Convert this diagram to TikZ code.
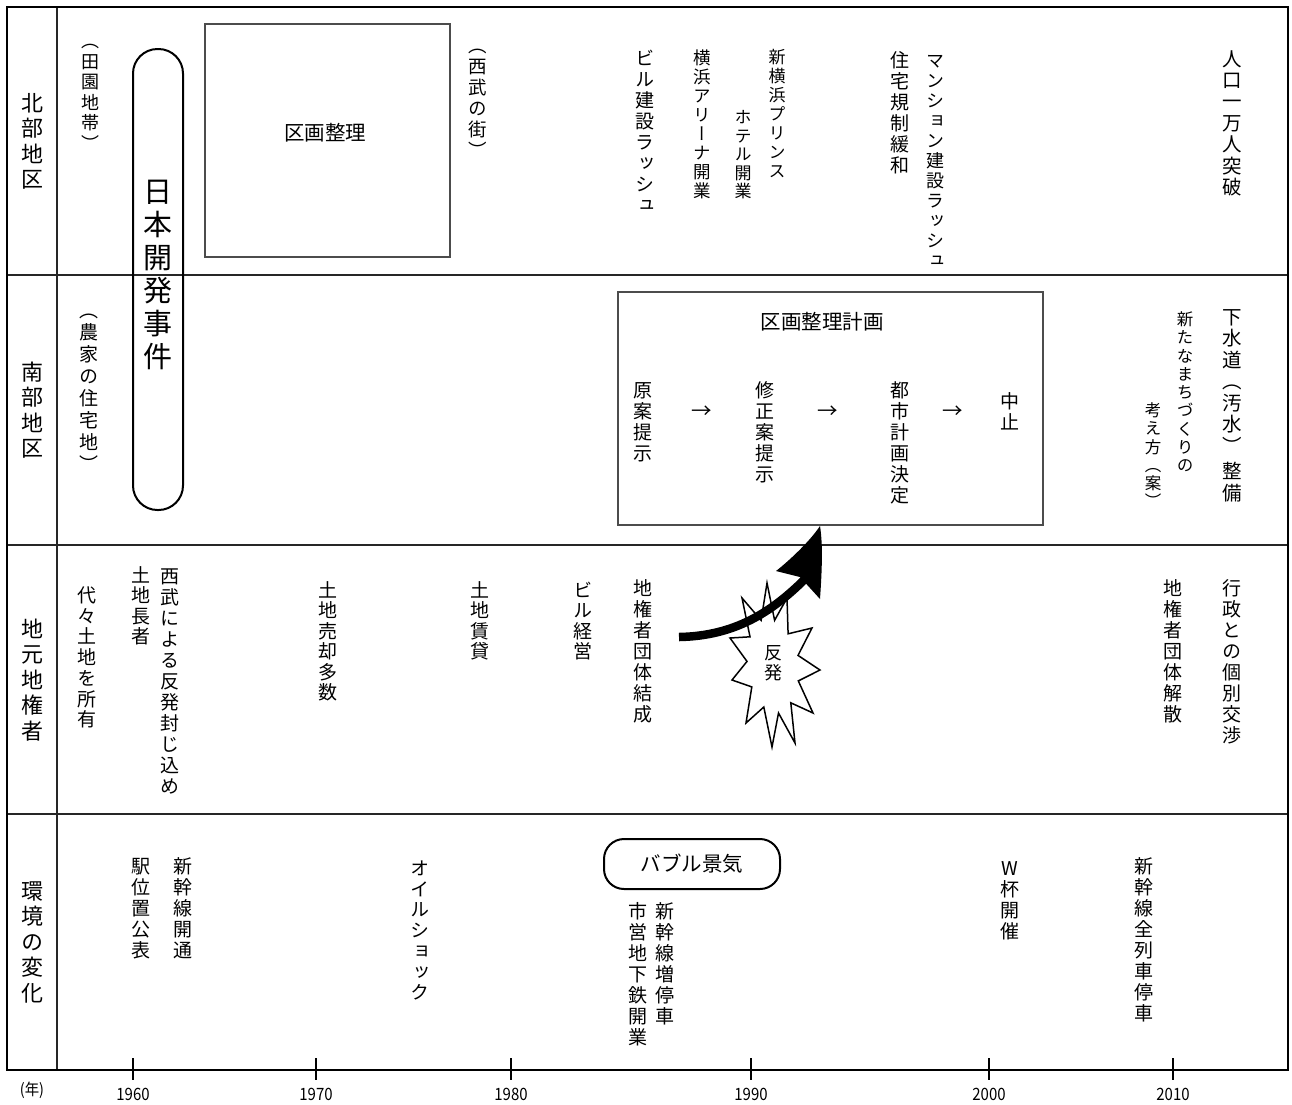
\documentclass[tikz,border=0pt]{standalone}
\usepackage{graphicx}
\usepackage{fontspec}
\newfontfamily\jp{Noto Sans CJK JP}
\newfontfamily\jpv[RawFeature=+vert]{Noto Sans CJK JP}
\newdimen\vtp
\def\vtend{\vtendmarker}
\newcommand\vtext[3]{\vbox{\offinterlineskip\jpv\fontsize{#1pt}{#1pt}\selectfont\vtp=#2pt\relax\vtloop#3\vtend}}
\def\vtloop#1{\ifx#1\vtend\else\vtcell{#1}\expandafter\vtloop\fi}
\def\vtbox#1{\hbox to 1.25em{\hss\vrule height\dimexpr .38em+.5\vtp\relax depth\dimexpr .5\vtp-.38em\relax width 0pt\relax #1\hss}}
\def\vtcell#1{%
  \ifx#1<\vskip-.5\vtp\relax\vtbox{（}%
  \else\ifx#1>\vtbox{）}\vskip-.5\vtp\relax
  \else\ifx#1!\vskip.2\vtp\relax
  \else\vtbox{#1}\fi\fi\fi}
\begin{document}
\begin{tikzpicture}[x=1pt,y=-1pt,
  vt/.style={anchor=north,inner sep=0pt,outer sep=0pt},
  lbl/.style={anchor=center,inner sep=0pt,outer sep=0pt},
  htext/.style={inner sep=0pt,font=\jp\fontsize{20.5pt}{20.5pt}\selectfont},
  yearlbl/.style={inner sep=0pt,font=\jp\fontsize{17pt}{17pt}\selectfont},
  frame/.style={line width=2.6pt},
  divider/.style={line width=2pt,draw=black!85},
  thinbox/.style={draw=black!70,line width=1.4pt,inner sep=0pt},
  tickmark/.style={line width=1.8pt},
  roundbox/.style={draw,line width=2pt,inner sep=0pt}
]
\useasboundingbox (0,0) rectangle (1292,1104);
\fill[white] (0,0) rectangle (1292,1104);

% grid
\draw[divider] (57,7) -- (57,1070);
\draw[divider] (7,275) -- (1288,275);
\draw[divider] (7,545) -- (1288,545);
\draw[divider] (7,814) -- (1288,814);
\draw[frame] (7,7) rectangle (1288,1070);

% years
\foreach \x/\y in {133/1960,316/1970,511/1980,751/1990,989/2000,1173/2010}{
  \draw[tickmark] (\x,1058) -- (\x,1080);
  \node[yearlbl] (y\y) at (\x,1094) {\scalebox{0.88}[1]{\y}};
}
\node[inner sep=0pt,font=\jp\fontsize{16pt}{16pt}\selectfont] (nen) at (32,1090) {\scalebox{0.9}[1]{(年)}};

% row labels
\node[lbl] (hokubu) at (32,141) {\vtext{22}{25.5}{北部地区}};
\node[lbl] (nanbu) at (32,410) {\vtext{22}{25.5}{南部地区}};
\node[lbl] (jimoto) at (32,680) {\vtext{22}{25.5}{地元地権者}};
\node[lbl] (kankyo) at (32,942) {\vtext{22}{25.5}{環境の変化}};

% boxes
\node[thinbox,minimum width=245pt,minimum height=233pt] (kukaku) at (327.5,140.5) {};
\node[htext] (kukakuT) at (325,133) {区画整理};
\node[roundbox,rounded corners=24.5pt,minimum width=50pt,minimum height=461pt] (jiken) at (158,279.5) {};
\node[lbl] (jikenT) at (158,274) {\vtext{29}{33}{日本開発事件}};
\node[thinbox,minimum width=425pt,minimum height=233pt] (plan) at (830.5,408.5) {};
\node[htext] (planT) at (822,322) {区画整理計画};
\node[roundbox,rounded corners=20pt,minimum width=176pt,minimum height=50pt,font=\jp\fontsize{20.5pt}{20.5pt}\selectfont] (bubble) at (692,864) {バブル景気};

% top row
\node[vt] (denen) at (90,41) {\vtext{18}{20.5}{<田園地帯>}};
\node[vt] (seibu) at (478,45) {\vtext{18.5}{21}{<西武の街>}};
\node[vt] (biru) at (645,48) {\vtext{19}{21}{ビル建設ラッシュ}};
\node[vt] (arena) at (702,48) {\vtext{17.5}{19}{横浜アリーナ開業}};
\node[vt] (hotel) at (743,108) {\vtext{17}{18.5}{ホテル開業}};
\node[vt] (prince) at (777,48) {\vtext{17}{19}{新横浜プリンス}};
\node[vt] (kisei) at (900,50) {\vtext{19}{21}{住宅規制緩和}};
\node[vt] (mansion) at (935,51) {\vtext{18}{20}{マンション建設ラッシュ}};
\node[vt] (jinko) at (1232,48) {\vtext{19.5}{21.4}{人口一万人突破}};

% middle row
\node[vt] (nouka) at (89,310) {\vtext{19}{22}{<農家の住宅地>}};
\node[vt] (gen) at (643,380) {\vtext{19}{21}{原案提示}};
\node[htext] (ar1) at (702,412) {→};
\node[vt] (shusei) at (765,380) {\vtext{19}{21}{修正案提示}};
\node[htext] (ar2) at (828,412) {→};
\node[vt] (toshi) at (900,380) {\vtext{19}{21}{都市計画決定}};
\node[htext] (ar3) at (953,412) {→};
\node[vt] (chushi) at (1010,391) {\vtext{19}{21}{中止}};
\node[vt] (atarashi) at (1185,310) {\vtext{16.5}{18.3}{新たなまちづくりの}};
\node[vt] (kangae) at (1153,401) {\vtext{16.5}{18.3}{考え方（案>}};
\node[vt] (gesui) at (1232,306) {\vtext{19.5}{21.5}{下水道（汚水）!整備}};

% third row
\node[vt] (daidai) at (87,585) {\vtext{19}{20.7}{代々土地を所有}};
\node[vt] (choja) at (141,565) {\vtext{19}{20.5}{土地長者}};
\node[vt] (seibu2) at (170,566) {\vtext{19}{21}{西武による反発封じ込め}};
\node[vt] (baikyaku) at (328,580) {\vtext{19}{20.5}{土地売却多数}};
\node[vt] (chintai) at (480,580) {\vtext{19}{20.5}{土地賃貸}};
\node[vt] (keiei) at (583,580) {\vtext{19}{20.5}{ビル経営}};
\node[vt] (kessei) at (643,578) {\vtext{19}{21}{地権者団体結成}};
\node[vt] (kaisan) at (1173,578) {\vtext{19}{21}{地権者団体解散}};
\node[vt] (gyosei) at (1232,578) {\vtext{19}{21}{行政との個別交渉}};

% starburst + arrow
\filldraw[fill=white,draw=black,line width=1.5pt,shift={(771,665)}]
 (-4,-82) -- (3.6,-44.7) -- (16,-67) -- (17.1,-31.2) -- (41,-37) -- (27,-9.6)
 -- (49,5) -- (27.3,15.9) -- (42,48) -- (19.8,37.8) -- (24,78) -- (7.5,48)
 -- (1,82) -- (-7.2,42) -- (-25,58) -- (-19.2,21.9) -- (-39,15) -- (-24,-3.6)
 -- (-41,-27) -- (-21,-28.2) -- (-29,-67) -- (-9.9,-44.7) -- cycle;
\coordinate (aS) at (679,637);
\coordinate (aT) at (820,526);
\draw[line width=8.5pt] (aS) .. controls (735,636) and (772,612) .. (806,578);
\fill (aT) .. controls (810,541) and (790,560) .. (776,571) -- (800,577) -- (820,599) .. controls (822,570) and (823,545) .. (aT);
\node[lbl] (hanpatsu) at (773,663) {\vtext{18}{20}{反発}};

% bottom row
\node[vt] (eki) at (141,856) {\vtext{19}{21}{駅位置公表}};
\node[vt] (kaitsu) at (183,856) {\vtext{19}{21}{新幹線開通}};
\node[vt] (oil) at (420,858) {\vtext{19}{20.7}{オイルショック}};
\node[vt] (zotei) at (665,901) {\vtext{19}{21}{新幹線増停車}};
\node[vt] (chikatetsu) at (638,901) {\vtext{19}{21}{市営地下鉄開業}};
\node[vt] (wcup) at (1010,858) {\vtext{19}{21}{W杯開催}};
\node[vt] (zenressha) at (1144,856) {\vtext{19}{21}{新幹線全列車停車}};
\end{tikzpicture}
\end{document}
